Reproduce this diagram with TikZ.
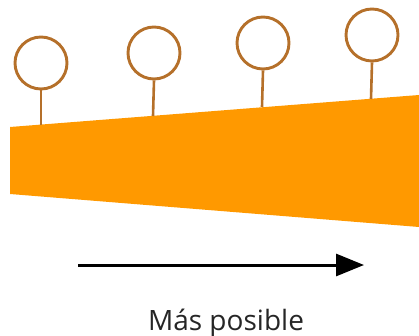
\documentclass[tikz,border=0pt]{standalone}
\usepackage{fontspec}
\setmainfont{Open Sans}
\usetikzlibrary{arrows.meta}
\definecolor{wedge}{HTML}{FF9900}
\definecolor{pin}{HTML}{B5702A}
\definecolor{txt}{HTML}{262626}
\begin{document}
\begin{tikzpicture}[x=1pt,y=-1pt,
  pinhead/.style={circle,draw=pin,line width=2.9pt,minimum size=52pt,inner sep=0pt,fill=white},
  pinstem/.style={draw=pin,line width=2.6pt},
  label/.style={font=\fontsize{28}{30}\selectfont,text=txt,inner sep=0pt}]
\useasboundingbox (0,0) rectangle (419,336);
\fill[wedge] (10,127) -- (419,95) -- (419,227) -- (10,194) -- cycle;
\coordinate (b1) at (41,125);
\coordinate (b2) at (153,116);
\coordinate (b3) at (262,107);
\coordinate (b4) at (371,99);
\node[pinhead] (c1) at (41,63) {};
\node[pinhead] (c2) at (154,53) {};
\node[pinhead] (c3) at (263,43) {};
\node[pinhead] (c4) at (372,35) {};
\draw[pinstem] (c1.south) -- (b1);
\draw[pinstem] (c2.south) -- (b2);
\draw[pinstem] (c3.south) -- (b3);
\draw[pinstem] (c4.south) -- (b4);
\coordinate (a0) at (78,265);
\coordinate (a1) at (364,265);
\draw[line width=3pt,-{Triangle[length=28pt,width=22pt]}] (a0) -- (a1);
\node[label,anchor=base] (t) at (226,330) {Más posible};
\end{tikzpicture}
\end{document}
